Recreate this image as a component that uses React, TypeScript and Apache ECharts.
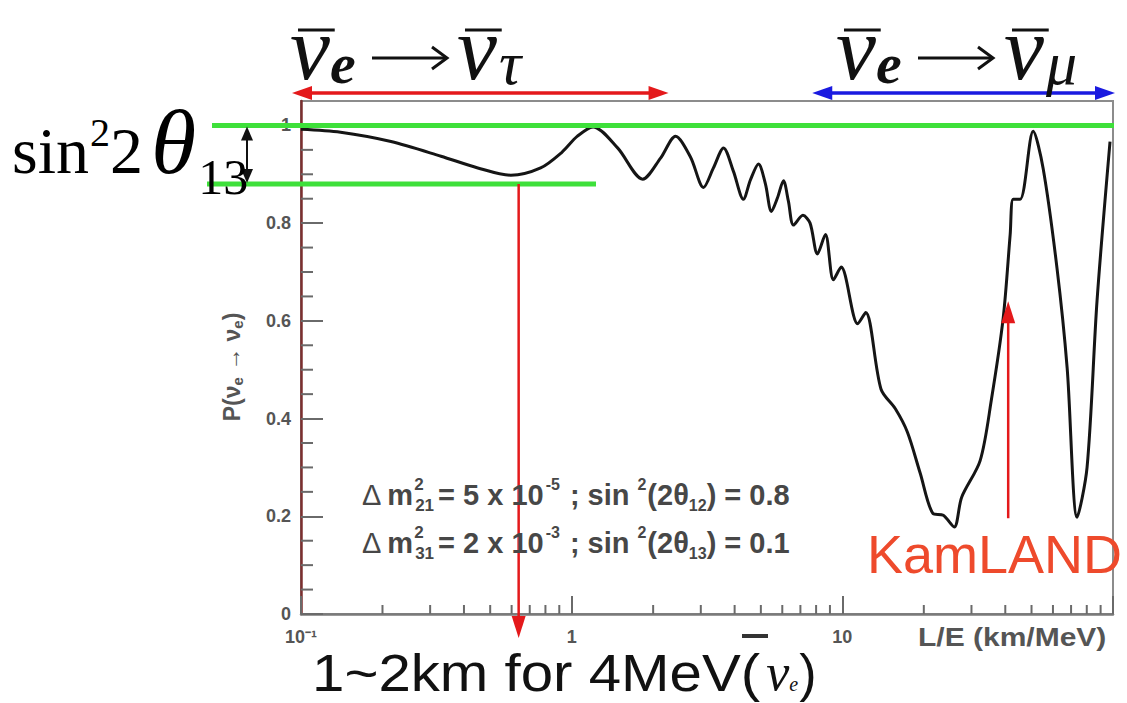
import React, { useEffect, useRef } from "react";
import * as echarts from "echarts";

// Survival probability P(anti-nu_e -> anti-nu_e)
const curveLE = [0.1, 0.14, 0.215, 0.329, 0.45, 0.596, 0.768, 0.92, 1.05, 1.2, 1.478, 1.83, 2.13, 2.42, 2.75, 3.07, 3.34, 3.64, 3.96, 4.31, 4.58, 4.9, 5.2, 5.47, 5.76, 6.06, 6.32, 6.6, 7.15, 7.6, 8.09, 8.66, 9.27, 9.9, 11.4, 12.2, 13.9, 15.7, 17.4, 19.4, 21.6, 23.6, 25.9, 27.6, 32.3, 35.5, 39.3, 41.7, 42.8, 45.4, 50.7, 55.2, 62.1, 67.7, 73.7, 80.2, 87.3, 97.5];
const curveP = [0.992, 0.986, 0.967, 0.937, 0.913, 0.898, 0.913, 0.945, 0.978, 0.997, 0.954, 0.89, 0.933, 0.978, 0.935, 0.873, 0.913, 0.954, 0.906, 0.849, 0.889, 0.921, 0.88, 0.824, 0.852, 0.887, 0.845, 0.796, 0.816, 0.8, 0.737, 0.777, 0.684, 0.71, 0.594, 0.617, 0.46, 0.42, 0.372, 0.288, 0.206, 0.202, 0.178, 0.239, 0.314, 0.437, 0.606, 0.777, 0.849, 0.849, 0.988, 0.912, 0.708, 0.504, 0.198, 0.3, 0.641, 0.967];

// axis ticks
const yMajorTicks = [0, 0.2, 0.4, 0.6, 0.8, 1];
const yMinorTicks = [0.05, 0.1, 0.15, 0.25, 0.3, 0.35, 0.45, 0.5, 0.55, 0.65, 0.7, 0.75, 0.85, 0.9, 0.95];
const xMinorTicks = [0.2, 0.3, 0.4, 0.5, 0.6, 0.7, 0.8, 0.9, 2, 3, 4, 5, 6, 7, 8, 9, 20, 30, 40, 50, 60, 70, 80, 90];
const xTickLabels: Record<string, string> = { "-1": "10⁻¹", "0": "1", "1": "10", "2": "" };

// annotation values
const fullLevel = 1.0;
const dipLevel = 0.88;
const dipLineEnd = 1.23;
const tauRange = [0.1, 2.28];
const muRange = [7.74, 100];
const reactorArrowX = 0.637;
const kamlandArrowX = 41;
const kamlandArrowY = [0.196, 0.64];

const SANS = "Liberation Sans";
const SERIF = "Liberation Serif";

type Tok = { t: string; s: number; dy?: number; dx?: number; it?: boolean; b?: boolean; f?: string; adv?: boolean; fill?: string; sx?: number };

const cnv = document.createElement("canvas");
const ctx = cnv.getContext("2d") as CanvasRenderingContext2D;

function run(x0: number, base: number, toks: Tok[], fill: string, family: string) {
  const els: any[] = [];
  const pos: { x: number; w: number }[] = [];
  let x = x0;
  for (const k of toks) {
    const fam = k.f || family;
    ctx.font = `${k.it ? "italic " : ""}${k.b ? "bold " : ""}${k.s}px "${fam}"`;
    const sx = k.sx || 1;
    const w = ctx.measureText(k.t).width * sx;
    x += k.dx || 0;
    els.push({
      type: "text",
      z: 20,
      x,
      y: base + (k.dy || 0) - 0.35 * k.s,
      scaleX: sx,
      style: {
        text: k.t,
        fill: k.fill || fill,
        fontSize: k.s,
        fontFamily: fam,
        fontStyle: k.it ? "italic" : "normal",
        fontWeight: k.b ? "bold" : "normal",
        align: "left",
        verticalAlign: "middle",
      },
    });
    pos.push({ x, w });
    if (k.adv !== false) x += w;
  }
  return { els, pos };
}

function arrowHead(tipX: number, tipY: number, dir: "up" | "down" | "left" | "right", len: number, half: number, color: string) {
  let pts: number[][] = [];
  if (dir === "down") pts = [[tipX, tipY], [tipX - half, tipY - len], [tipX + half, tipY - len]];
  if (dir === "up") pts = [[tipX, tipY], [tipX - half, tipY + len], [tipX + half, tipY + len]];
  if (dir === "left") pts = [[tipX, tipY], [tipX + len, tipY - half], [tipX + len, tipY + half]];
  if (dir === "right") pts = [[tipX, tipY], [tipX - len, tipY - half], [tipX - len, tipY + half]];
  return { type: "polygon", z: 15, shape: { points: pts }, style: { fill: color } };
}

function seg(x1: number, y1: number, x2: number, y2: number, color: string, w: number, z = 14) {
  return { type: "line", z, shape: { x1, y1, x2, y2 }, style: { stroke: color, lineWidth: w } };
}

// "nu_e -> nu_x" label with overbars and a drawn arrow
function flavourLabel(x0: number, arrowX: number, nu2X: number, last: string) {
  const base = 80;
  const a = run(x0, base, [
    { t: "ν", s: 90, it: true },
    { t: "e", s: 58, it: true, b: true, dy: 4, dx: 0 },
  ], "#111", SERIF);
  const b = run(nu2X, base, [
    { t: "ν", s: 90, it: true },
    { t: last, s: 62, it: true, dy: 5, dx: 2 },
  ], "#111", SERIF);
  const els: any[] = [...a.els, ...b.els];
  const ay = 58;
  els.push(seg(arrowX, ay, arrowX + 74, ay, "#111", 3, 20));
  els.push({ type: "polyline", z: 20, shape: { points: [[arrowX + 60, ay - 11], [arrowX + 75, ay], [arrowX + 60, ay + 11]] }, style: { stroke: "#111", lineWidth: 3, fill: "none" } });
  for (const p of [a.pos[0], b.pos[0]]) {
    els.push(seg(p.x + p.w * 0.2, 30, p.x + p.w * 1.12, 30, "#111", 3, 20));
  }
  return els;
}

export default function App() {
  const ref = useRef<HTMLDivElement>(null);
  useEffect(() => {
    if (!ref.current) return;
    const chart = echarts.init(ref.current, undefined, { renderer: "svg" });
    const tickColor = "#6a6a6a";
    const option: any = {
      animation: false,
      backgroundColor: "#ffffff",
      grid: { left: 301, top: 101, width: 812, height: 513, show: true, borderColor: "#8c8c8c", borderWidth: 2, backgroundColor: "#ffffff", outerBoundsMode: "none" },
      xAxis: {
        type: "log",
        logBase: 10,
        min: 0.1,
        max: 100,
        axisLine: { lineStyle: { color: "#7a7a7a", width: 2.5 } },
        axisTick: { inside: true, length: 18, lineStyle: { color: tickColor, width: 2 } },
        axisLabel: {
          formatter: (v: number) => xTickLabels[String(Math.round(Math.log10(v)))] ?? "",
          color: "#555",
          fontWeight: "bold",
          fontSize: 18,
          fontFamily: SANS,
          margin: 14,
        },
        splitLine: { show: false },
      },
      yAxis: {
        type: "value",
        min: 0,
        max: 1.05,
        interval: 0.2,
        axisLine: { show: true, lineStyle: { color: "#7b2f2f", width: 2.5 } },
        axisTick: { inside: true, length: 22, customValues: yMajorTicks, lineStyle: { color: tickColor, width: 2 } },
        axisLabel: {
          customValues: yMajorTicks,
          formatter: (v: number) => (v > 1.001 ? "" : String(Math.round(v * 10) / 10)),
          color: "#555",
          fontWeight: "bold",
          fontSize: 18,
          fontFamily: SANS,
          margin: 10,
        },
        splitLine: { show: false },
      },
      series: [
        {
          type: "line",
          data: curveLE.map((x, i) => [x, curveP[i]]),
          showSymbol: false,
          smooth: 0.3,
          lineStyle: { color: "#151515", width: 3 },
          z: 5,
        },
        {
          type: "custom",
          silent: true,
          z: 3,
          data: xMinorTicks.map((v) => [v, 0]),
          renderItem: (_p: any, api: any) => {
            const c = api.coord([api.value(0), api.value(1)]);
            return { type: "line", shape: { x1: c[0], y1: c[1], x2: c[0], y2: c[1] - 9 }, style: { stroke: tickColor, lineWidth: 2 } };
          },
        },
        {
          type: "custom",
          silent: true,
          z: 3,
          data: yMinorTicks.map((v) => [0.1, v]),
          renderItem: (_p: any, api: any) => {
            const c = api.coord([api.value(0), api.value(1)]);
            return { type: "line", shape: { x1: c[0], y1: c[1], x2: c[0] + 12, y2: c[1] }, style: { stroke: tickColor, lineWidth: 2 } };
          },
        },
      ],
    };
    chart.setOption(option);

    const P = (x: number, y: number) => chart.convertToPixel({ xAxisIndex: 0, yAxisIndex: 0 }, [x, y]) as number[];
    const g: any[] = [];
    const green = "#3ee03a";
    const red = "#e4191b";
    const blue = "#1a1ae0";

    // green level lines
    const yFull = P(1, fullLevel)[1];
    const yDip = P(1, dipLevel)[1];
    const xRight = P(100, 0)[0];
    g.push(seg(212, yFull, xRight + 1, yFull, green, 5, 12));
    g.push(seg(207, yDip, P(dipLineEnd, 0)[0], yDip, green, 5, 12));

    // black double arrow for sin^2 2theta13
    const bx = 247;
    g.push(seg(bx, yFull + 12, bx, yDip - 12, "#111", 2, 16));
    g.push(arrowHead(bx, yFull + 1, "up", 14, 6, "#111"));
    g.push(arrowHead(bx, yDip - 1, "down", 14, 6, "#111"));

    // top range arrows
    const yTop = 93;
    const tx1 = P(tauRange[0], 0)[0] - 9;
    const tx2 = P(tauRange[1], 0)[0];
    g.push(seg(tx1 + 14, yTop, tx2 - 14, yTop, red, 3.5));
    g.push(arrowHead(tx1, yTop, "left", 20, 7, red));
    g.push(arrowHead(tx2, yTop, "right", 20, 7, red));
    const mx1 = P(muRange[0], 0)[0];
    const mx2 = P(muRange[1], 0)[0] + 2;
    g.push(seg(mx1 + 14, yTop, mx2 - 14, yTop, blue, 3.5));
    g.push(arrowHead(mx1, yTop, "left", 20, 7, blue));
    g.push(arrowHead(mx2, yTop, "right", 20, 7, blue));

    // red arrow down from the first dip
    const rx = P(reactorArrowX, 0)[0];
    g.push(seg(rx, yDip, rx, 618, red, 2.5, 18));
    g.push(arrowHead(rx, 638, "down", 22, 7, red));

    // KamLAND arrow
    const kx = P(kamlandArrowX, 0)[0];
    const ky1 = P(kamlandArrowX, kamlandArrowY[0])[1];
    const ky2 = P(kamlandArrowX, kamlandArrowY[1])[1];
    g.push(seg(kx, ky1, kx, ky2 + 18, red, 2.5, 18));
    g.push(arrowHead(kx, ky2, "up", 22, 7, red));

    // top labels
    g.push(...flavourLabel(290, 372, 457, "τ"));
    g.push(...flavourLabel(836, 918, 1004, "μ"));

    // sin^2 2 theta13
    g.push(...run(12, 174, [
      { t: "sin", s: 66 },
      { t: "2", s: 40, dy: -28, dx: 1 },
      { t: "2", s: 66, dx: 0 },
      { t: "θ", s: 92, it: true, dx: 8 },
      { t: "13", s: 50, dy: 20, dx: 2 },
    ], "#000", SERIF).els);

    // parameter lines
    const S = 29;
    const pf = "#474747";
    const line = (base: number, sub: string, val: string, exp: string, th: string, res: string) =>
      run(362, base, [
        { t: "Δ", s: S },
        { t: "m", s: S, b: true, dx: 6 },
        { t: "2", s: 17, b: true, dy: -15, dx: 1, adv: false },
        { t: sub, s: 17, b: true, dy: 6, dx: 1 },
        { t: "= " + val + " x 10", s: S, b: true, dx: 4 },
        { t: exp, s: 16, b: true, dy: -15, dx: 2 },
        { t: ";", s: S, b: true, dx: 10 },
        { t: "sin", s: S, b: true, dx: 8 },
        { t: "2", s: 16, b: true, dy: -15, dx: 8 },
        { t: "(2θ", s: S, b: true, dx: 1 },
        { t: th, s: 16, b: true, dy: 6 },
        { t: ")", s: S, b: true },
        { t: "= " + res, s: S, b: true, dx: 8 },
      ], pf, SANS).els;
    g.push(...line(505, "21", "5", "-5", "12", "0.8"));
    g.push(...line(553, "31", "2", "-3", "13", "0.1"));

    // KamLAND
    g.push(...run(867, 573, [{ t: "KamLAND", s: 54 }], "#ee4a2c", SANS).els);

    // bottom text
    g.push(...run(312, 691, [
      { t: "1~2km for 4MeV(", s: 52, sx: 1.12 },
      { t: "ν", s: 52, it: true, f: SERIF, dx: 6 },
      { t: "e", s: 20, it: true, f: SERIF, dx: 0 },
      { t: ")", s: 52, dx: 1 },
    ], "#111", SANS).els);

    // x axis title
    g.push(...run(918, 646, [{ t: "L/E (km/MeV)", s: 25, b: true, sx: 1.2 }], "#555", SANS).els);
    // small dash near the axis labels
    g.push({ type: "rect", z: 10, shape: { x: 742, y: 634, width: 26, height: 4 }, style: { fill: "#333" } });

    // y axis title
    g.push({
      type: "text",
      z: 20,
      x: 232,
      y: 367,
      rotation: Math.PI / 2,
      style: {
        text: "P(ν{s|e} → ν{s|e})",
        fill: "#555",
        fontSize: 23,
        fontWeight: "bold",
        fontFamily: SANS,
        align: "center",
        verticalAlign: "middle",
        rich: { s: { fontSize: 15, fontWeight: "bold", fill: "#555", fontFamily: SANS, padding: [10, 0, 0, 0] } },
      },
    });

    chart.setOption({ graphic: { elements: g } });
    return () => chart.dispose();
  }, []);
  return <div ref={ref} style={{ position: "fixed", left: 0, top: 0, width: 1127, height: 703 }} />;
}
